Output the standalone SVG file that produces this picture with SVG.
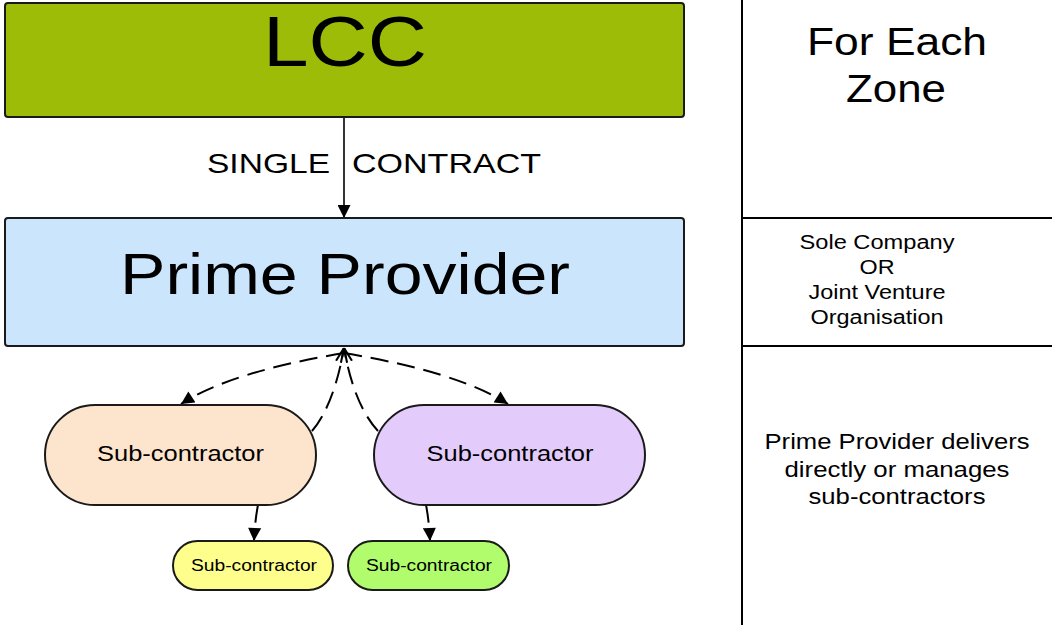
<svg xmlns="http://www.w3.org/2000/svg" width="1052" height="625" viewBox="0 0 1052 625">
<style>
text{font-family:"Liberation Sans",Arial,sans-serif;fill:#000;text-anchor:middle}
.box{stroke:#1a1a1a;stroke-width:2}
.sep{stroke:#000;stroke-width:2;fill:none}
.solid{stroke:#000;stroke-width:1.6;fill:none}
.dash{stroke:#000;stroke-width:2;fill:none;stroke-dasharray:18 9}
</style>
<defs>
<marker id="tri" viewBox="0 0 10 10" refX="10" refY="5" markerWidth="14" markerHeight="13" markerUnits="userSpaceOnUse" orient="auto">
<path d="M0,0 L10,5 L0,10 Z" fill="#000"/>
</marker>
<marker id="open" viewBox="0 0 10 10" refX="10" refY="5" markerWidth="14" markerHeight="14" markerUnits="userSpaceOnUse" orient="auto">
<path d="M0,1 L10,5 L0,9" fill="none" stroke="#000" stroke-width="1.5"/>
</marker>
</defs>
<rect width="1052" height="625" fill="#fff"/>
<g id="panel">
<line class="sep" x1="742" y1="0" x2="742" y2="625"/>
<line class="sep" x1="742" y1="218" x2="1052" y2="218"/>
<line class="sep" x1="742" y1="346" x2="1052" y2="346"/>
<text x="897" y="55" font-size="38" textLength="180" lengthAdjust="spacingAndGlyphs">For Each</text>
<text x="896" y="102" font-size="38" textLength="100" lengthAdjust="spacingAndGlyphs">Zone</text>
<text x="877" y="249" font-size="20" textLength="155" lengthAdjust="spacingAndGlyphs">Sole Company</text>
<text x="877" y="274" font-size="20" textLength="35" lengthAdjust="spacingAndGlyphs">OR</text>
<text x="877" y="299" font-size="20" textLength="137" lengthAdjust="spacingAndGlyphs">Joint Venture</text>
<text x="877" y="324" font-size="20" textLength="133" lengthAdjust="spacingAndGlyphs">Organisation</text>
<text x="897" y="449" font-size="22" textLength="265" lengthAdjust="spacingAndGlyphs">Prime Provider delivers</text>
<text x="897" y="477" font-size="22" textLength="225" lengthAdjust="spacingAndGlyphs">directly or manages</text>
<text x="897" y="504" font-size="22" textLength="177" lengthAdjust="spacingAndGlyphs">sub-contractors</text>
</g>
<g id="connectors">
<line class="solid" x1="344" y1="117" x2="344" y2="218" marker-end="url(#tri)"/>
<text x="268.5" y="173" font-size="28" textLength="123" lengthAdjust="spacingAndGlyphs">SINGLE</text>
<text x="446.5" y="173" font-size="28" textLength="189" lengthAdjust="spacingAndGlyphs">CONTRACT</text>
<path class="dash" d="M344,353 Q230,372 181,404" marker-end="url(#tri)"/>
<path class="dash" d="M344,353 Q458,372 508,404" marker-end="url(#tri)"/>
<path class="dash" d="M312,431 Q334,405 344,348" marker-end="url(#open)"/>
<path class="dash" d="M378,431 Q354,405 344,348" marker-end="url(#open)"/>
<path class="dash" d="M258,505 Q255,520 254,541" marker-end="url(#tri)"/>
<path class="dash" d="M426,505 Q429,520 430,541" marker-end="url(#tri)"/>
</g>
<g id="lcc">
<rect class="box" x="5" y="3" width="679" height="114" rx="3" fill="#9cbc08"/>
<text x="345" y="66" font-size="70" textLength="164" lengthAdjust="spacingAndGlyphs">LCC</text>
</g>
<g id="prime">
<rect class="box" x="5" y="218" width="679" height="128" rx="3" fill="#cbe5fc"/>
<text x="345" y="294" font-size="58" textLength="450" lengthAdjust="spacingAndGlyphs">Prime Provider</text>
</g>
<g id="sub1">
<rect class="box" x="45" y="405" width="271" height="100" rx="50" fill="#fde4cc"/>
<text x="180.5" y="461" font-size="22" textLength="167" lengthAdjust="spacingAndGlyphs">Sub-contractor</text>
</g>
<g id="sub2">
<rect class="box" x="374" y="405" width="271" height="100" rx="50" fill="#e3ccfc"/>
<text x="510" y="461" font-size="22" textLength="167" lengthAdjust="spacingAndGlyphs">Sub-contractor</text>
</g>
<g id="sub3">
<rect class="box" x="173" y="541" width="160" height="49" rx="24.5" fill="#fefe8c"/>
<text x="254" y="571" font-size="16" textLength="126" lengthAdjust="spacingAndGlyphs">Sub-contractor</text>
</g>
<g id="sub4">
<rect class="box" x="348" y="541" width="161" height="49" rx="24.5" fill="#b0fc6c"/>
<text x="429" y="571" font-size="16" textLength="126" lengthAdjust="spacingAndGlyphs">Sub-contractor</text>
</g>
</svg>
